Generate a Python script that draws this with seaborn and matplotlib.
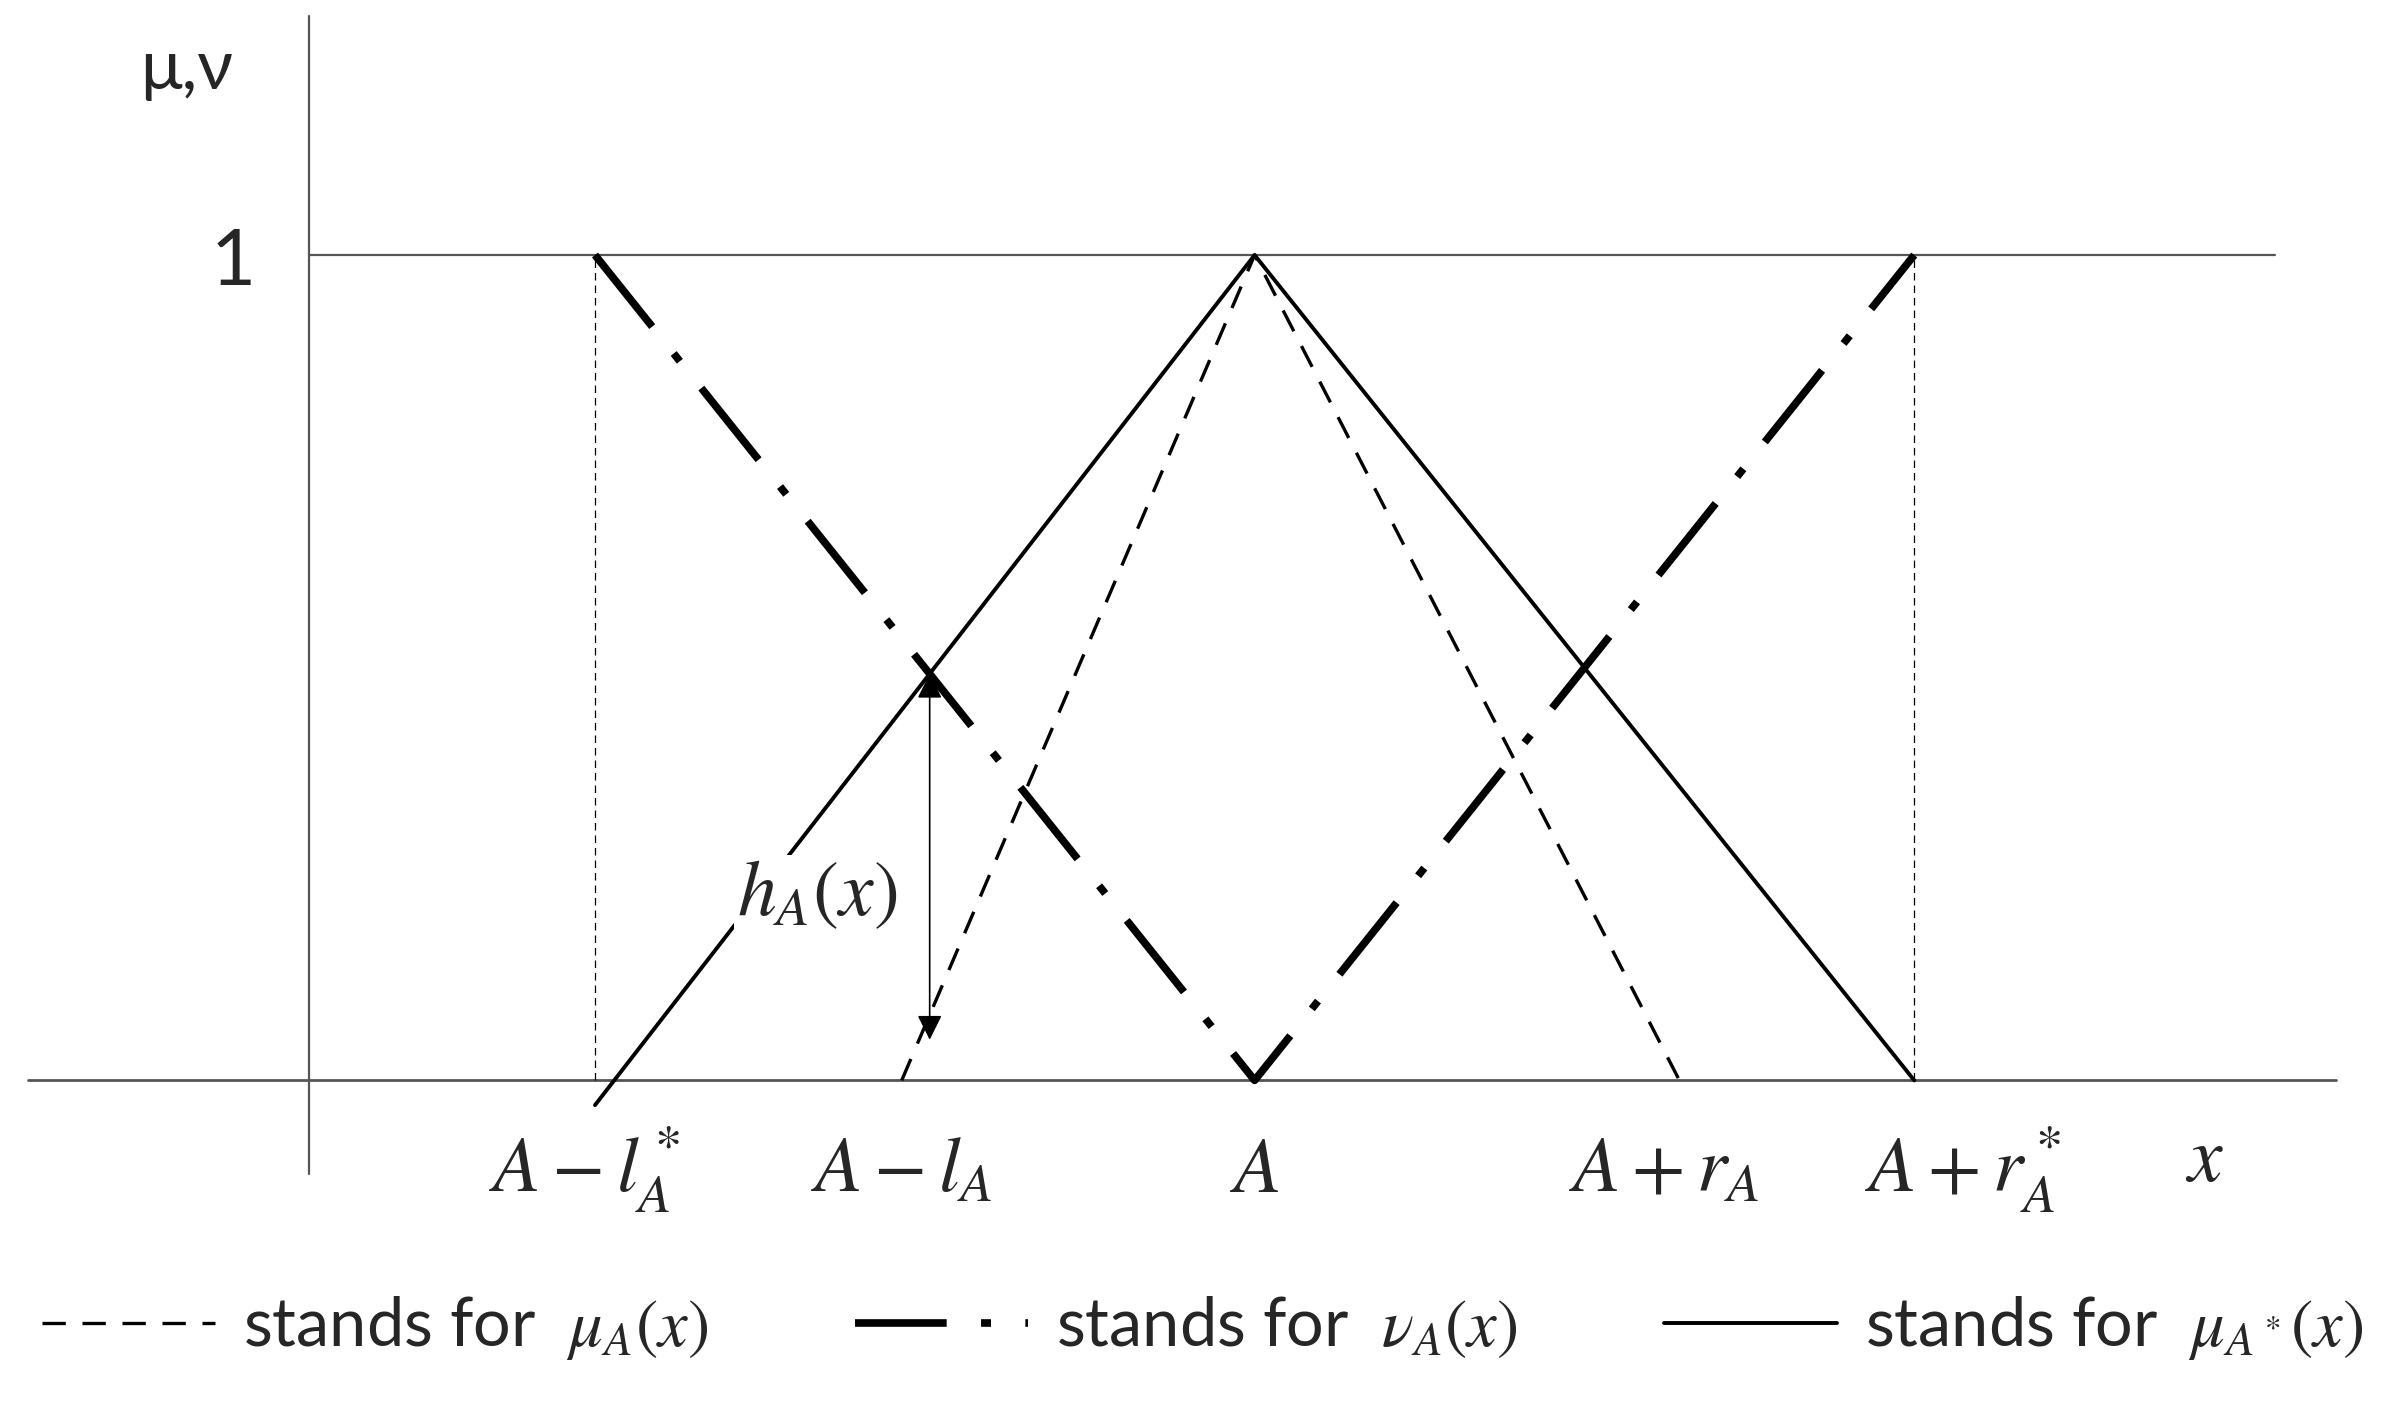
import numpy as np
import seaborn as sns
import matplotlib.pyplot as plt

sns.set_style('white')
plt.rcParams['font.family'] = ['Lato', 'DejaVu Sans']
plt.rcParams['mathtext.fontset'] = 'stix'

# positions on the x axis (A = 0)
tick_pos = [-1.0, -0.535, 0.0, 0.644, 1.0]
tick_labels = [r'$A-l_A^*$', r'$A-l_A$', r'$A$', r'$A+r_A$', r'$A+r_A^*$']

# membership / non-membership functions
mu_x = [-0.535, 0.0, 0.644]
mu_y = [0.0, 1.0, 0.0]
nu_x = [-1.0, 0.0, 1.0]
nu_y = [1.0, 0.0, 1.0]
mustar_x = [-1.0, 0.0, 1.0]
mustar_y = [-0.03, 1.0, 0.0]

legend_labels = [r'stands for  $\mu_A(x)$', r'stands for  $\nu_A(x)$', r'stands for  $\mu_{A^*}(x)$']

fig = plt.figure(figsize=(24.05, 14.13), dpi=100)
ax = fig.add_axes([0, 0, 1, 1])
ax.set_xlim(-1.902, 1.744)
ax.set_ylim(-0.403, 1.309)
ax.axis('off')

axis_col = '#555555'
# axes drawn by hand like the original sketch
ax.plot([-1.433, -1.433], [-0.113, 1.29], color=axis_col, lw=1.6)
ax.plot([-1.433, 1.547], [1, 1], color=axis_col, lw=1.6)
ax.plot([-1.86, 1.64], [0, 0], color=axis_col, lw=2.0)
ax.vlines([tick_pos[0], tick_pos[-1]], 0, 1, color='black', lw=0.9, linestyle=(0, (6, 4)))

sns.lineplot(x=mu_x, y=mu_y, ax=ax, sort=False, color='black', lw=2.4,
             linestyle=(0, (7, 5)), label=legend_labels[0])
sns.lineplot(x=nu_x, y=nu_y, ax=ax, sort=False, color='black', lw=5.5,
             linestyle=(0, (12, 4.5, 1.3, 4.5)), label=legend_labels[1])
sns.lineplot(x=mustar_x, y=mustar_y, ax=ax, sort=False, color='black', lw=2.8,
             label=legend_labels[2])

# h_A(x) arrow at the crossing of mu* and nu
xs = np.linspace(-1, 0, 20001)
diff = np.interp(xs, mustar_x, mustar_y) - np.interp(xs, nu_x, nu_y)
xc = xs[np.argmin(np.abs(diff))]
top = np.interp(xc, nu_x, nu_y)
bot = np.interp(xc, mu_x, mu_y)
ax.annotate('', xy=(xc, bot - 0.03), xytext=(xc, top),
            arrowprops=dict(arrowstyle='<|-|>', color='black', lw=1.2,
                            mutation_scale=38, shrinkA=0, shrinkB=0))
ax.text(xc - 0.17, 0.225, r'$h_A(x)$', fontsize=56, ha='center', va='center',
        bbox=dict(facecolor='white', edgecolor='none', pad=2))

label_shift = [-0.016, 0.0, 0.0, -0.023, 0.074]
for p, s, lab in zip(tick_pos, label_shift, tick_labels):
    ax.text(p + s, -0.135, lab, fontsize=56, ha='center', va='baseline')
ax.text(1.44, -0.122, r'$x$', fontsize=56, ha='center', va='baseline')

ax.text(-1.619, 1.225, 'μ,ν', fontsize=50, ha='center', va='center')
ax.text(-1.549, 0.99, '1', fontsize=56, ha='center', va='center')

ax.legend(loc='center', bbox_to_anchor=(0.5, 0.06), bbox_transform=fig.transFigure,
          ncol=3, frameon=False, fontsize=48, handlelength=2.6, handletextpad=0.42,
          columnspacing=2.2)

fig.savefig('out.png', dpi=100, facecolor='white')
